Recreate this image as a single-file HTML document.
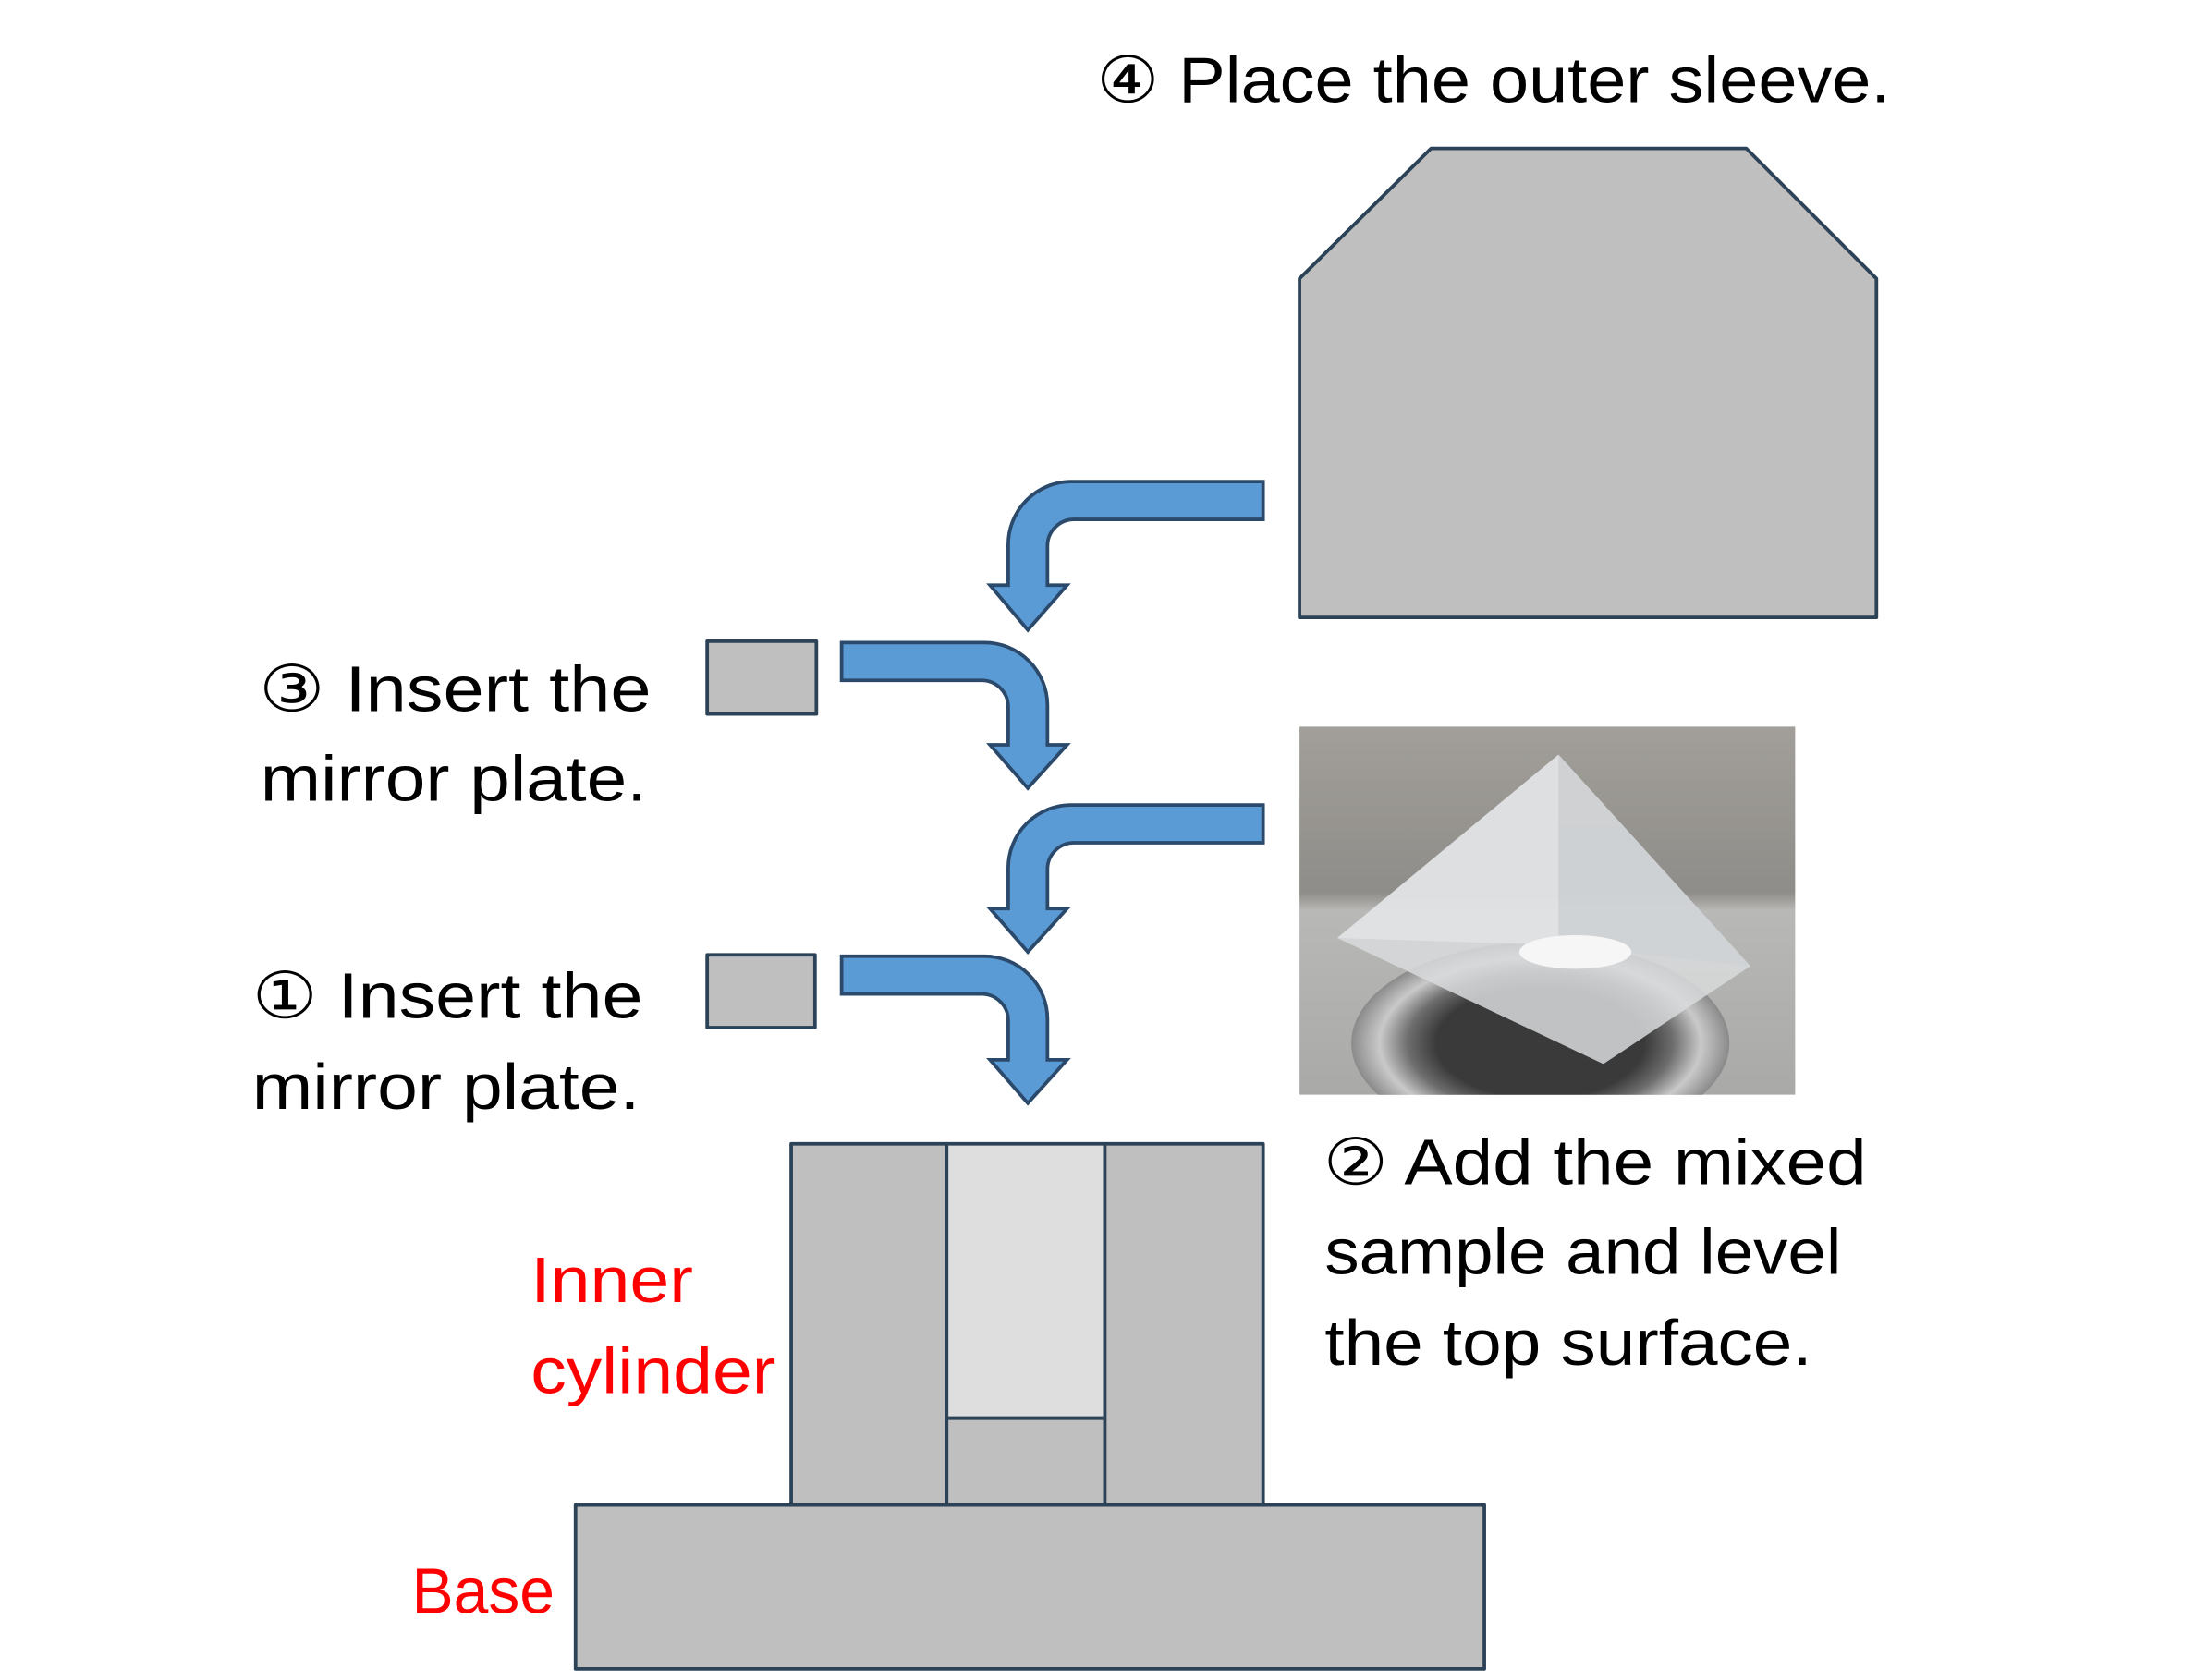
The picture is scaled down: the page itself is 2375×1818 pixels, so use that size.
<!DOCTYPE html>
<html><head><meta charset="utf-8"><style>
html,body{margin:0;padding:0;background:#fff;}
svg{display:block;}
text{font-family:"Liberation Sans","DejaVu Sans",sans-serif;}
</style></head><body>
<svg width="2375" height="1818" viewBox="0 0 1567.5 1200" preserveAspectRatio="none" xmlns="http://www.w3.org/2000/svg">
<defs>
<linearGradient id="bg" x1="0" y1="0" x2="0" y2="1">
<stop offset="0" stop-color="#a29f9a"/><stop offset="0.45" stop-color="#8f8d89"/><stop offset="0.5" stop-color="#b8b8b6"/><stop offset="1" stop-color="#a9a9a8"/>
</linearGradient>
<radialGradient id="ring" cx="0.5" cy="0.5" r="0.5">
<stop offset="0.55" stop-color="#3a3a3a"/><stop offset="0.7" stop-color="#6d6d6d"/><stop offset="0.85" stop-color="#c9c9c9"/><stop offset="1" stop-color="#8a8a8a"/>
</radialGradient>
<clipPath id="pc"><rect x="928" y="519" width="354" height="263"/></clipPath>
</defs>
<g stroke="#2b4257" stroke-width="2.5" stroke-linejoin="round">
<polygon points="928,199 1022,106 1247,106 1340,199 1340,441 928,441" fill="#bfbfbf"/>
<rect x="505" y="458" width="78" height="52" fill="#bfbfbf"/>
<rect x="505" y="682" width="77" height="52" fill="#bfbfbf"/>
<rect x="565" y="817" width="111" height="258" fill="#bfbfbf"/>
<rect x="676" y="817" width="113" height="196" fill="#dedede"/>
<rect x="676" y="1013" width="113" height="62" fill="#bfbfbf"/>
<rect x="789" y="817" width="113" height="258" fill="#bfbfbf"/>
<rect x="411" y="1075" width="649" height="117" fill="#bfbfbf"/>
</g>
<g fill="#5b9bd5" stroke="#2b4a6b" stroke-width="2.5" stroke-linejoin="miter">
<path d="M902,344 L765,344 A45,45 0 0 0 720,389 L720,418 L707,418 L734,450 L762,418 L748,418 L748,390 A19,19 0 0 1 767,371 L902,371 Z"/>
<path d="M601,459 L703,459 A45,45 0 0 1 748,504 L748,532 L762,532 L734,563 L707,532 L720,532 L720,505 A19,19 0 0 0 701,486 L601,486 Z"/>
<path d="M902,575 L765,575 A45,45 0 0 0 720,620 L720,649 L707,649 L734,680 L762,649 L748,649 L748,621 A19,19 0 0 1 767,602 L902,602 Z"/>
<path d="M601,683 L703,683 A45,45 0 0 1 748,728 L748,757 L762,757 L734,788 L707,757 L720,757 L720,729 A19,19 0 0 0 701,710 L601,710 Z"/>
</g>
<g clip-path="url(#pc)">
<rect x="928" y="519" width="354" height="263" fill="url(#bg)"/>
<ellipse cx="1100" cy="745" rx="135" ry="72" fill="url(#ring)"/>
<polygon points="1113,539 1250,690 1145,760 955,670" fill="#d8dadc" opacity="0.85"/>
<polygon points="1113,539 1113,675 955,670" fill="#e4e6e8" opacity="0.7"/>
<polygon points="1113,539 1250,690 1113,675" fill="#cfd2d4" opacity="0.7"/>
<ellipse cx="1125" cy="680" rx="40" ry="12" fill="#f6f6f6"/>
</g>
<g font-size="46" fill="#000">
<text x="783" y="73" textLength="567" lengthAdjust="spacingAndGlyphs">④ Place the outer sleeve.</text>
<text x="185" y="508" textLength="280" lengthAdjust="spacingAndGlyphs">③ Insert the</text>
<text x="186" y="572" textLength="276" lengthAdjust="spacingAndGlyphs">mirror plate.</text>
<text x="180" y="727" textLength="279" lengthAdjust="spacingAndGlyphs">① Insert the</text>
<text x="180" y="792" textLength="277" lengthAdjust="spacingAndGlyphs">mirror plate.</text>
<text x="945" y="846" textLength="388" lengthAdjust="spacingAndGlyphs">② Add the mixed</text>
<text x="946" y="910" textLength="369" lengthAdjust="spacingAndGlyphs">sample and level</text>
<text x="946" y="975" textLength="348" lengthAdjust="spacingAndGlyphs">the top surface.</text>
</g>
<g font-size="46" fill="#ff0000">
<text x="379" y="930" textLength="116" lengthAdjust="spacingAndGlyphs">Inner</text>
<text x="379" y="995" textLength="175" lengthAdjust="spacingAndGlyphs">cylinder</text>
<text x="294" y="1152" textLength="102" lengthAdjust="spacingAndGlyphs">Base</text>
</g>
</svg>
</body></html>
